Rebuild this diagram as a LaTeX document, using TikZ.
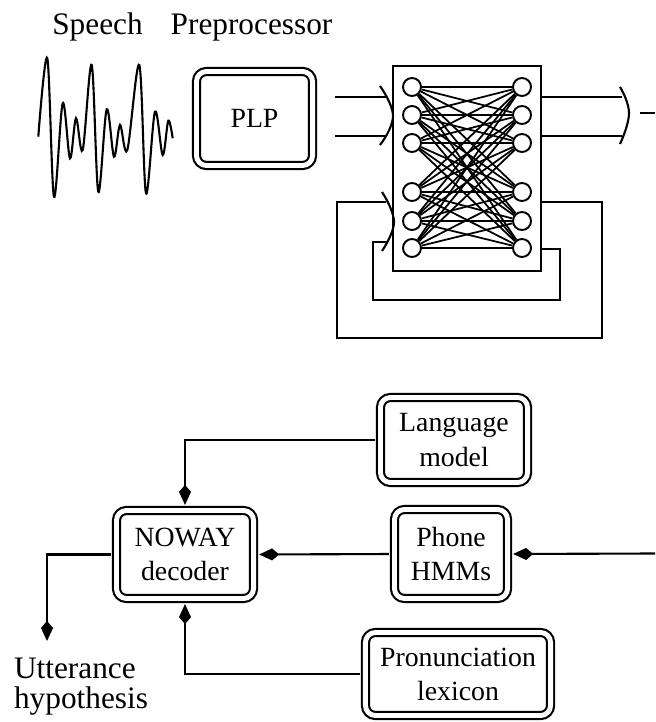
\documentclass[tikz,border=0pt]{standalone}
\usepackage{fontspec}
\setmainfont{Liberation Serif}
\usetikzlibrary{arrows.meta}

\begin{document}
\begin{tikzpicture}[%
    x=0.01cm, y=-0.01cm,     % one unit for each pixel of the scan, y downwards
    line width=0.6pt,
    >={Kite[length=0.2cm,width=0.12cm,inset=0.07cm]},
    ]
% -------------------------------------------------
% Styles
\tikzset{
  % double walled boxes for the modules
  dbox/.style={draw, double, double distance=1.4pt, rounded corners=0.1cm,
    align=center, inner sep=0pt, font=\fontsize{7.9}{9.7}\selectfont},
  % the net and its units
  net/.style={draw, rectangle, inner sep=0pt,
    minimum width=1.48cm, minimum height=2.05cm},
  unit/.style={draw, circle, fill=white, inner sep=0pt, minimum size=0.18cm,
    line width=0.55pt},
  wire/.style={line width=0.5pt},
  bus/.style={draw, line width=0.8pt},
  % free standing texts
  caption/.style={inner sep=0pt, font=\fontsize{8.9}{8.6}\selectfont},
  % connectors between double boxes
  feed/.style={->, draw, shorten <=0.045cm, shorten >=0.045cm}
}
\useasboundingbox (0,0) rectangle (655,722);
% -------------------------------------------------
% Front end
\node [caption, anchor=base] (speech) at (97.5,35) {Speech};
\node [caption, anchor=base] (prep) at (251.5,35) {Preprocessor};
\draw [line width=0.6pt] plot [smooth, tension=0.55] coordinates {
  (38.3,136.7) (47.3,58.3) (54,196.7) (62.7,103.3) (70,158.3) (76,118.3)
  (82.7,150) (91.7,65) (98.3,191.7) (106.7,109.3) (114,156.7) (120,125)
  (127.3,150) (139.3,65) (146,193.3) (155,111.7) (162.7,155) (168.3,120.7)
  (172.7,138.3)};
\node [dbox, minimum width=1.16cm, minimum height=0.94cm] (plp) at (254.5,118.5) {PLP};
% -------------------------------------------------
% The net: two columns of units, every unit joined to every unit
\node [net] (mlp) at (467,168.5) {};
\foreach \y [count=\i] in {87,115,143,192,221,248} {
  \node [unit] (l\i) at (412,\y) {};
  \node [unit] (r\i) at (522,\y) {};
}
\foreach \i in {1,...,6}
  \foreach \j in {1,...,6}
    \draw [wire] (l\i) -- (r\j);
% -------------------------------------------------
% Feature inputs and outputs, gathered by the bracket marks
\coordinate (inA) at (335,97);
\coordinate (inB) at (335,136);
\coordinate (chA) at (386,97);
\coordinate (chB) at (386,136);
\draw [bus] (inA) -- (chA);
\draw [bus] (inB) -- (chB);
\draw (380,86) .. controls (387,96) and (393,108) .. (393,116)
  .. controls (393,124) and (387,136) .. (380,145);
\coordinate (outA) at (622,97);
\coordinate (outB) at (622,136);
\draw [bus] (mlp.east |- outA) -- (outA);
\draw [bus] (mlp.east |- outB) -- (outB);
\draw (620,87) .. controls (625,95) and (629,106) .. (629,113)
  .. controls (629,121) and (625,133) .. (620,144);
\coordinate (nextA) at (640,113);
\coordinate (nextB) at (655,113);
\draw [bus] (nextA) -- (nextB);
% -------------------------------------------------
% Recurrent loops, back into the net
\coordinate (fbAout) at (mlp.east |- 0,202);
\coordinate (fbBout) at (mlp.east |- 0,249);
\coordinate (fbA) at (386,202);
\coordinate (fbB) at (387,242);
\draw (fbAout) -| (602,338) -| (337,202) -- (fbA);
\draw (fbBout) -| (560,300) -| (373,242) -- (fbB);
\draw (382,192) .. controls (388,201) and (394,214) .. (394,222)
  .. controls (394,230) and (388,242) .. (382,251);
% -------------------------------------------------
% Decoder part
\node [dbox, minimum width=1.47cm, minimum height=0.85cm] (lm) at (454,440) {Language\\model};
\node [dbox, minimum width=1.13cm, minimum height=0.89cm] (hmm) at (451,554) {Phone\\HMMs};
\node [dbox, minimum width=1.37cm, minimum height=0.88cm] (noway) at (185,554.5) {NOWAY\\decoder};
\node [dbox, minimum width=1.85cm, minimum height=0.83cm] (lex) at (458,674) {Pronunciation\\lexicon};
\node [caption, align=left, anchor=north west] (utt) at (13,657) {Utterance\\hypothesis};

\coordinate (phin) at (655,553.5);
\coordinate (uttin) at (47,641);
\draw [feed] (lm.west) -| (noway.north);
\draw [feed] (lex.west) -| (noway.south);
\draw [feed] (hmm.west) -- (noway.east);
\draw [->, shorten >=0.045cm] (phin) -- (hmm.east);
\draw [->, shorten <=0.045cm] (noway.west) -| (uttin);
\end{tikzpicture}
\end{document}
